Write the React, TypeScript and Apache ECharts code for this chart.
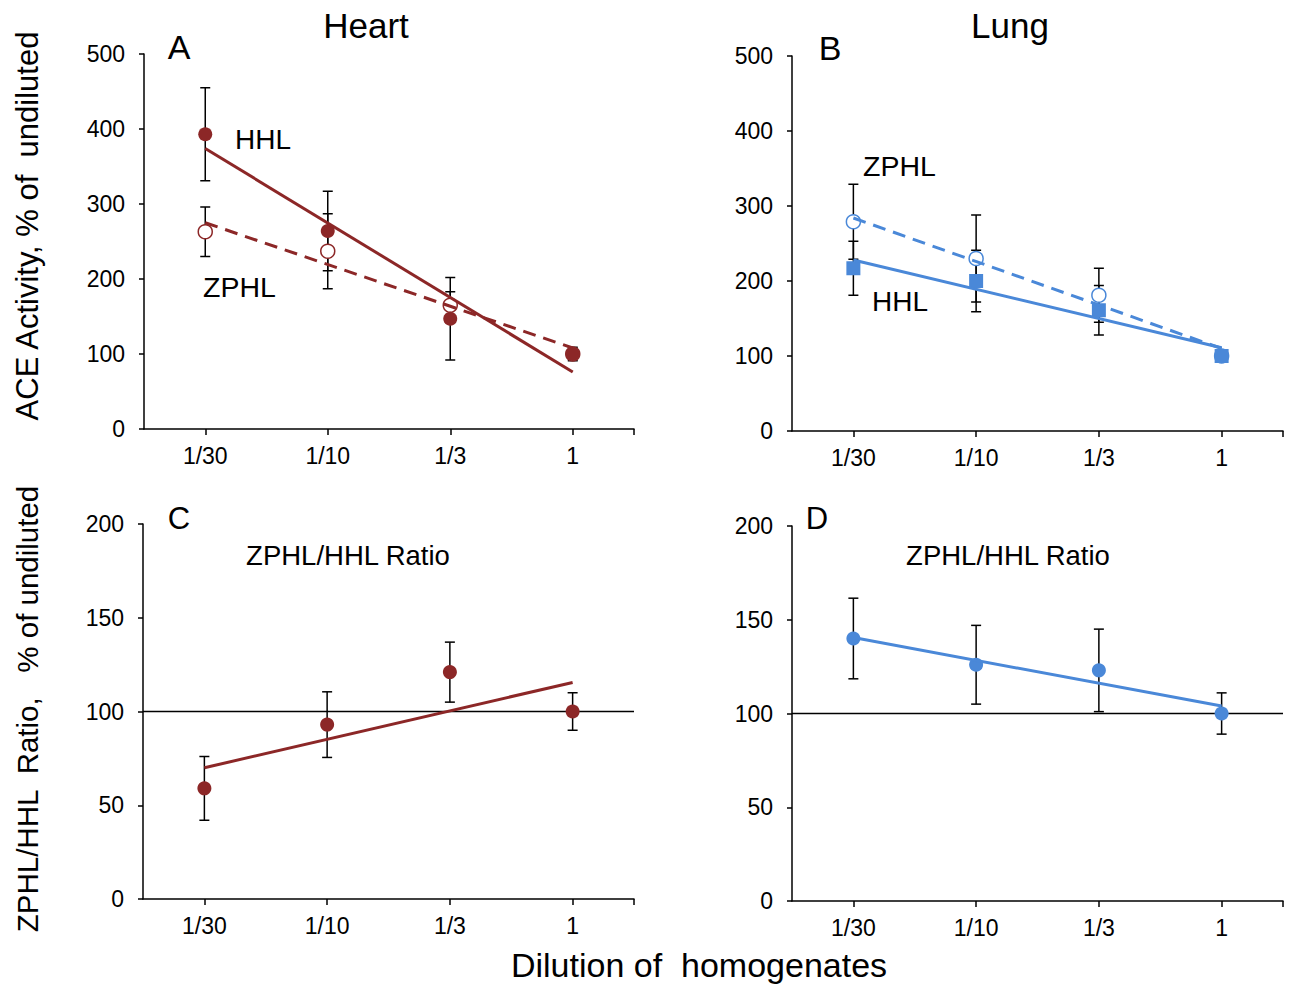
import React, { useEffect, useRef } from 'react';
import * as echarts from 'echarts';

const FONT = '"Liberation Sans", Arial, Helvetica, sans-serif';
const RED = '#8c2727';
const BLUE = '#4a88d8';

// Categories (x axis)
const categories = ['1/30', '1/10', '1/3', '1'];

// Panel A – Heart
const heartHHL = [393, 264, 147, 100];
const heartHHLErr = [62, 53, 55, 9];
const heartZPHL = [263, 237, 165, 100];
const heartZPHLErr = [33, 50, 18, 6];
const heartHHLTrend = [374, 76];
const heartZPHLTrend = [275, 108];

// Panel B – Lung
const lungHHL = [217, 200, 161, 100];
const lungHHLErr = [36, 41, 33, 7];
const lungZPHL = [279, 230, 181, 100];
const lungZPHLErr = [50, 58, 36, 6];
const lungHHLTrend = [228, 111];
const lungZPHLTrend = [284, 110];

// Panel C – Heart ratio
const heartRatio = [59, 93, 121, 100];
const heartRatioErr = [17, 17.5, 16, 10];
const heartRatioTrend = [70, 115.5];

// Panel D – Lung ratio
const lungRatio = [140, 126, 123, 100];
const lungRatioErr = [21.5, 21, 22, 11];
const lungRatioTrend = [140.5, 104];

const refLevel = [100];

const xPos = (i: number) => i + 0.5;
const pts = (vals: number[]) => vals.map((v, i) => [xPos(i), v]);
const errPts = (vals: number[], errs: number[]) => vals.map((v, i) => [xPos(i), v, errs[i]]);
const trendPts = (t: number[]) => [[xPos(0), t[0]], [xPos(categories.length - 1), t[1]]];

const tickVals = categories.map((_, i) => xPos(i)).concat([categories.length]);
const labelVals = categories.map((_, i) => xPos(i));

function errorSeries(idx: number, vals: number[], errs: number[]) {
  return {
    type: 'custom',
    xAxisIndex: idx,
    yAxisIndex: idx,
    z: 1,
    encode: { x: 0, y: 1 },
    data: errPts(vals, errs),
    renderItem: (params: any, api: any) => {
      const x = api.value(0);
      const y = api.value(1);
      const e = api.value(2);
      const top = api.coord([x, y + e]);
      const bot = api.coord([x, y - e]);
      const w = 5;
      const style = { stroke: '#000', lineWidth: 1.5 };
      return {
        type: 'group',
        children: [
          { type: 'line', shape: { x1: top[0], y1: top[1], x2: bot[0], y2: bot[1] }, style },
          { type: 'line', shape: { x1: top[0] - w, y1: top[1], x2: top[0] + w, y2: top[1] }, style },
          { type: 'line', shape: { x1: bot[0] - w, y1: bot[1], x2: bot[0] + w, y2: bot[1] }, style },
        ],
      };
    },
  };
}

function markerSeries(idx: number, vals: number[], color: string, symbol: string, open: boolean) {
  return {
    type: 'scatter',
    xAxisIndex: idx,
    yAxisIndex: idx,
    z: 3,
    symbol,
    symbolSize: 14,
    data: pts(vals),
    itemStyle: open
      ? { color: '#fff', borderColor: color, borderWidth: 1.5, opacity: 1 }
      : { color, opacity: 1 },
    emphasis: { disabled: true },
  };
}

function trendSeries(idx: number, t: number[], color: string, dashed: boolean) {
  return {
    type: 'line',
    xAxisIndex: idx,
    yAxisIndex: idx,
    z: 4,
    symbol: 'none',
    data: trendPts(t),
    lineStyle: { color, width: 3, type: dashed ? [13, 8] : 'solid' },
  };
}

function refSeries(idx: number) {
  return {
    type: 'line',
    xAxisIndex: idx,
    yAxisIndex: idx,
    z: 0,
    symbol: 'none',
    data: [[0, refLevel[0]], [categories.length, refLevel[0]]],
    lineStyle: { color: '#000', width: 1.5 },
  };
}

function xAxis(idx: number) {
  return {
    type: 'value',
    gridIndex: idx,
    min: 0,
    max: categories.length,
    axisLine: { show: true, onZero: false, lineStyle: { color: '#000', width: 1.5 } },
    axisTick: { show: true, length: 6, lineStyle: { color: '#000', width: 1.5 }, customValues: tickVals },
    axisLabel: {
      customValues: labelVals,
      formatter: (v: number) => categories[Math.round(v - 0.5)] ?? '',
      fontSize: 23,
      color: '#000',
      margin: 15,
      fontFamily: FONT,
    },
    splitLine: { show: false },
  };
}

function yAxis(idx: number, max: number, interval: number) {
  return {
    type: 'value',
    gridIndex: idx,
    min: 0,
    max,
    interval,
    axisLine: { show: true, onZero: false, lineStyle: { color: '#000', width: 1.5 } },
    axisTick: { show: true, length: 5, lineStyle: { color: '#000', width: 1.5 } },
    axisLabel: { fontSize: 23, color: '#000', margin: 19, fontFamily: FONT },
    splitLine: { show: false },
  };
}

function txt(text: string, x: number, y: number, size: number, align = 'center', rotation = 0) {
  return {
    type: 'text',
    x,
    y,
    rotation,
    style: {
      text,
      fontSize: size,
      fontFamily: FONT,
      fill: '#000',
      textAlign: align,
      textVerticalAlign: 'middle',
    },
    z: 10,
  };
}

export default function App() {
  const ref = useRef<HTMLDivElement>(null);
  useEffect(() => {
    document.body.style.margin = '0';
    if (!ref.current) return;
    const chart = echarts.init(ref.current, undefined, { renderer: 'svg' });
    chart.setOption({
      animation: false,
      backgroundColor: '#fff',
      grid: [
        { left: 144, top: 54, width: 490, height: 375 },
        { left: 792, top: 56, width: 491, height: 375 },
        { left: 143, top: 524, width: 491, height: 375 },
        { left: 792, top: 526, width: 491, height: 375 },
      ],
      xAxis: [xAxis(0), xAxis(1), xAxis(2), xAxis(3)],
      yAxis: [yAxis(0, 500, 100), yAxis(1, 500, 100), yAxis(2, 200, 50), yAxis(3, 200, 50)],
      series: [
        // A
        errorSeries(0, heartHHL, heartHHLErr),
        errorSeries(0, heartZPHL, heartZPHLErr),
        markerSeries(0, heartZPHL, RED, 'circle', true),
        markerSeries(0, heartHHL, RED, 'circle', false),
        trendSeries(0, heartHHLTrend, RED, false),
        trendSeries(0, heartZPHLTrend, RED, true),
        // B
        errorSeries(1, lungHHL, lungHHLErr),
        errorSeries(1, lungZPHL, lungZPHLErr),
        markerSeries(1, lungZPHL, BLUE, 'circle', true),
        markerSeries(1, lungHHL, BLUE, 'rect', false),
        trendSeries(1, lungHHLTrend, BLUE, false),
        trendSeries(1, lungZPHLTrend, BLUE, true),
        // C
        refSeries(2),
        errorSeries(2, heartRatio, heartRatioErr),
        markerSeries(2, heartRatio, RED, 'circle', false),
        trendSeries(2, heartRatioTrend, RED, false),
        // D
        refSeries(3),
        errorSeries(3, lungRatio, lungRatioErr),
        markerSeries(3, lungRatio, BLUE, 'circle', false),
        trendSeries(3, lungRatioTrend, BLUE, false),
      ],
      graphic: [
        txt('Heart', 366, 25, 35),
        txt('Lung', 1010, 25, 35),
        txt('A', 179, 47, 34),
        txt('B', 830, 48, 34),
        txt('C', 179, 518, 31),
        txt('D', 817, 518, 31),
        txt('HHL', 235, 139, 28, 'left'),
        txt('ZPHL', 203, 287, 28.5, 'left'),
        txt('ZPHL', 863, 166, 28.5, 'left'),
        txt('HHL', 872, 301, 28, 'left'),
        txt('ZPHL/HHL Ratio', 348, 555, 27.5),
        txt('ZPHL/HHL Ratio', 1008, 555, 27.5),
        txt('ACE Activity, % of  undiluted', 27, 226, 31, 'center', Math.PI / 2),
        txt('ZPHL/HHL  Ratio,   % of undiluted', 27, 709, 29.5, 'center', Math.PI / 2),
        txt('Dilution of  homogenates', 699, 965, 34),
      ],
    });
    return () => chart.dispose();
  }, []);
  return <div ref={ref} style={{ width: 1291, height: 985 }} />;
}
